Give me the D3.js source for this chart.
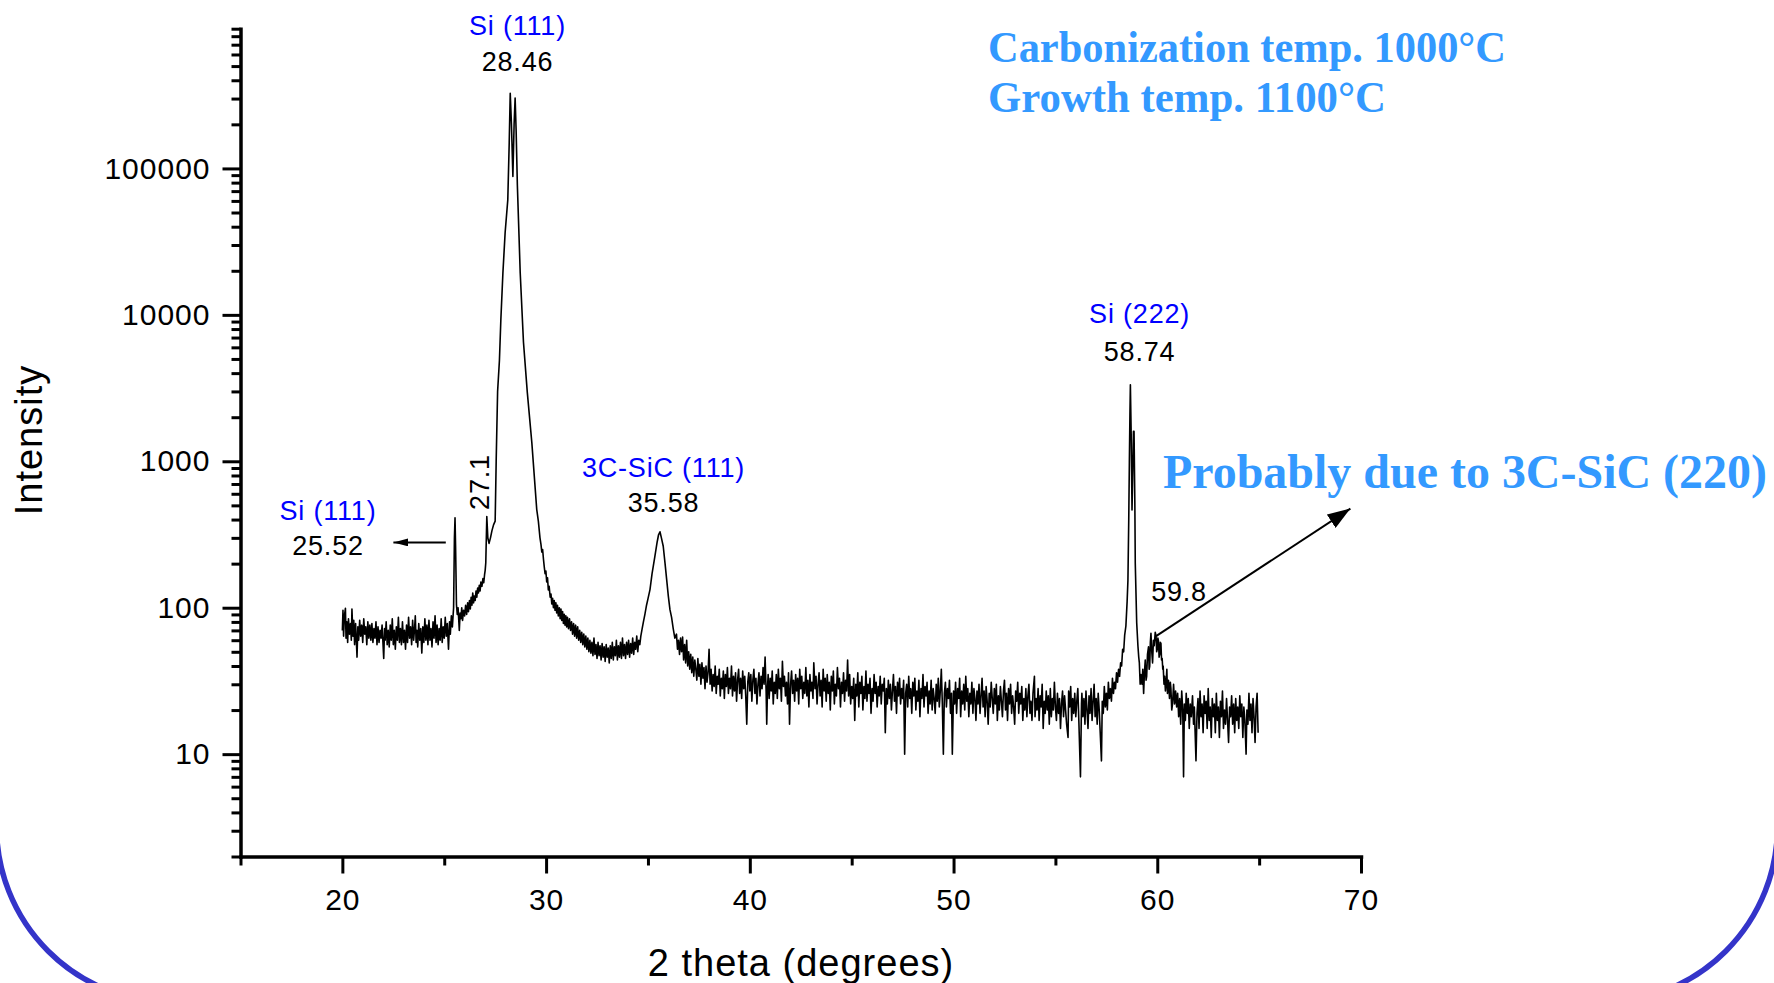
<!DOCTYPE html>
<html>
<head>
<meta charset="utf-8">
<script src="https://cdn.jsdelivr.net/npm/d3@7"></script>
<style>
html, body { margin: 0; padding: 0; background: #fff; }
svg { display: block; }
.sans { font-family: "Liberation Sans", Arial, Helvetica, sans-serif; }
.serif { font-family: "Liberation Serif", "Times New Roman", serif; font-weight: bold; }
</style>
</head>
<body>
<svg id="chart" width="1774" height="983"></svg>
<script>
// ---- data: [2 theta (deg), intensity (counts)] ----
var scanLowAngle = [[20.0,70],[20.03,96],[20.06,64],[20.1,88],[20.15,99],[20.18,62],[20.22,80],[20.26,58],[20.3,84],[20.35,66],[20.4,78],[20.44,60],[20.47,98],[20.52,64],[20.56,82],[20.6,56],[20.65,78],[20.72,46],[20.76,74],[20.8,60],[20.85,82],[20.9,64],[20.95,76],[21.0,58],[21.05,84],[21.1,66],[21.15,74],[21.2,56],[21.25,80],[21.3,62],[21.35,76],[21.4,60],[21.45,78],[21.5,58],[21.55,72],[21.6,62],[21.65,80],[21.7,56],[21.75,74],[21.8,58],[21.85,70],[21.9,62],[21.95,76],[22.03,45],[22.07,72],[22.1,60],[22.15,80],[22.2,56],[22.25,70],[22.3,54],[22.35,76],[22.4,60],[22.45,84],[22.5,56],[22.55,70],[22.6,52],[22.65,74],[22.7,60],[22.75,86],[22.8,58],[22.85,72],[22.9,56],[22.95,80],[23.0,58],[23.05,70],[23.1,52],[23.15,76],[23.2,58],[23.25,86],[23.3,62],[23.35,74],[23.4,56],[23.45,82],[23.5,60],[23.55,74],[23.58,88],[23.62,58],[23.66,70],[23.7,54],[23.75,78],[23.8,60],[23.85,72],[23.9,49],[23.95,74],[24.0,58],[24.05,84],[24.1,60],[24.15,76],[24.2,56],[24.25,82],[24.3,60],[24.35,72],[24.4,54],[24.45,80],[24.5,62],[24.55,88],[24.6,58],[24.65,76],[24.7,56],[24.75,72],[24.8,60],[24.85,84],[24.9,58],[24.95,74],[25.0,62],[25.05,86],[25.1,64],[25.15,78],[25.21,52],[25.26,80],[25.3,66],[25.35,88],[25.4,74]];

var scanSi111 = [[25.46,100],[25.5,300],[25.53,412],[25.56,250],[25.6,105],[25.64,90],[25.68,100],[25.74,70],[25.78,92],[25.82,84],[25.86,100],[25.9,82],[25.95,96],[26.0,88],[26.05,104],[26.1,90],[26.15,108],[26.19,94],[26.24,112],[26.28,98],[26.32,118],[26.36,104],[26.4,126],[26.44,108],[26.48,120],[26.52,112],[26.56,130],[26.6,118],[26.64,136],[26.68,126],[26.72,142],[26.76,130],[26.8,150],[26.85,140],[26.9,158],[26.94,148],[26.98,168],[27.01,180],[27.04,203],[27.09,420],[27.14,300],[27.2,275],[27.27,300],[27.34,335],[27.42,368],[27.5,390],[27.55,1000],[27.62,3000],[27.71,4900],[27.78,9300],[27.88,19300],[27.99,36500],[28.12,61000],[28.19,150000],[28.24,326000],[28.3,200000],[28.37,88000],[28.43,200000],[28.48,302000],[28.53,180000],[28.59,76800],[28.73,19300],[28.89,6500],[29.08,2930],[29.3,1340],[29.54,470],[29.62,390],[29.7,300],[29.75,270],[29.79,240],[29.83,250],[29.87,215],[29.91,190],[29.95,171],[29.99,178],[30.03,150],[30.07,160],[30.11,132],[30.15,140],[30.2,118],[30.24,124],[30.28,106]];

var scanSiC111 = [[30.32,116],[30.36,100],[30.4,112],[30.44,96],[30.48,108],[30.52,92],[30.56,104],[30.6,88],[30.65,100],[30.69,84],[30.73,98],[30.77,82],[30.81,94],[30.85,78],[30.89,90],[30.93,76],[30.97,88],[31.01,74],[31.05,86],[31.1,72],[31.15,84],[31.2,70],[31.25,80],[31.3,66],[31.35,78],[31.4,64],[31.45,76],[31.5,62],[31.55,74],[31.6,60],[31.65,70],[31.7,58],[31.75,68],[31.8,56],[31.85,66],[31.9,54],[31.95,64],[32.0,52],[32.05,62],[32.1,50],[32.15,60],[32.2,49],[32.25,58],[32.3,47],[32.35,62],[32.4,48],[32.45,56],[32.5,45],[32.55,58],[32.6,47],[32.65,55],[32.7,44],[32.75,57],[32.8,46],[32.85,54],[32.9,43],[32.95,56],[33.0,46],[33.05,53],[33.1,42],[33.15,55],[33.2,45],[33.25,58],[33.3,44],[33.35,54],[33.4,47],[33.45,60],[33.5,44],[33.55,55],[33.6,46],[33.65,58],[33.7,45],[33.75,62],[33.8,47],[33.85,56],[33.9,45],[33.95,58],[34.0,48],[34.05,60],[34.1,46],[34.15,57],[34.2,49],[34.25,62],[34.3,48],[34.35,58],[34.4,52],[34.45,64],[34.5,50],[34.55,60],[34.6,56],[34.65,64],[34.7,70],[34.77,79],[34.85,90],[34.93,104],[35.0,115],[35.1,133],[35.2,170],[35.34,224],[35.45,280],[35.52,315],[35.59,330],[35.66,300],[35.75,263],[35.84,200],[35.92,155],[36.0,120],[36.08,97],[36.16,86],[36.24,72],[36.32,62]];

var scanPlateau = [[36.4,66],[36.45,52],[36.5,60],[36.55,48],[36.6,62],[36.65,50],[36.7,63],[36.75,44],[36.8,56],[36.85,42],[36.9,60],[36.95,40],[37.0,50],[37.05,38],[37.1,48],[37.15,36],[37.2,46],[37.25,34],[37.3,44],[37.35,38],[37.4,32],[37.45,45],[37.5,34],[37.55,41],[37.6,30],[37.65,42],[37.7,33],[37.75,39],[37.8,28],[37.85,40],[37.9,31],[37.95,36],[38.0,52],[38.05,30],[38.1,38],[38.15,27],[38.2,35],[38.25,29],[38.3,40],[38.35,26],[38.4,34],[38.45,30],[38.5,38],[38.55,25],[38.6,33],[38.65,28],[38.7,37],[38.75,24],[38.8,35],[38.85,29],[38.9,39],[38.95,26],[39.0,33],[39.05,28],[39.1,40],[39.15,25],[39.2,34],[39.25,27],[39.3,36],[39.35,23],[39.4,32],[39.45,38],[39.5,26],[39.55,33],[39.6,24],[39.65,37],[39.7,28],[39.75,34],[39.8,25],[39.85,16],[39.9,31],[39.95,36],[40.0,27],[40.05,35],[40.1,23],[40.15,32],[40.2,38],[40.25,26],[40.3,33],[40.35,22],[40.4,30],[40.45,36],[40.5,25],[40.55,34],[40.6,28],[40.65,39],[40.7,30],[40.75,46],[40.8,27],[40.83,16],[40.87,29],[40.9,35],[40.95,24],[41.0,33],[41.05,27],[41.1,37],[41.15,22],[41.2,31],[41.25,26],[41.3,35],[41.35,24],[41.4,38],[41.45,28],[41.5,33],[41.55,23],[41.6,43],[41.65,29],[41.7,34],[41.75,25],[41.8,31],[41.85,22],[41.9,36],[41.95,16],[42.0,30],[42.05,37],[42.1,26],[42.15,32],[42.2,23],[42.25,35],[42.3,27],[42.35,33],[42.4,22],[42.45,38],[42.5,28],[42.55,34],[42.6,24],[42.65,31],[42.7,26],[42.75,39],[42.8,25],[42.85,32],[42.9,21],[42.95,35],[43.0,27],[43.05,31],[43.1,24],[43.14,42],[43.2,28],[43.25,34],[43.3,22],[43.35,30],[43.4,36],[43.45,25],[43.5,32],[43.55,21],[43.6,38],[43.65,27],[43.7,33],[43.75,23],[43.8,35],[43.85,26],[43.9,31],[43.95,20],[44.0,34],[44.05,27],[44.1,37],[44.15,22],[44.2,30],[44.25,25],[44.3,39],[44.35,28],[44.4,33],[44.45,21],[44.5,31],[44.55,26],[44.6,36],[44.65,23],[44.7,32],[44.75,27],[44.8,44],[44.85,25],[44.9,35],[44.95,22],[45.0,29],[45.05,24],[45.1,33],[45.15,17],[45.2,30],[45.25,25],[45.3,36],[45.35,21],[45.4,31],[45.45,26],[45.5,34],[45.55,20],[45.6,29],[45.65,24],[45.7,37],[45.75,23],[45.8,30],[45.85,26],[45.9,33],[45.95,19],[46.0,28],[46.05,23],[46.1,35],[46.15,26],[46.2,31],[46.25,21],[46.3,29],[46.35,25],[46.4,34],[46.45,22],[46.5,30],[46.55,27],[46.6,33],[46.65,14],[46.7,28],[46.75,22],[46.8,32],[46.85,24],[46.9,30],[46.95,20],[47.0,27],[47.05,35],[47.1,23],[47.15,29],[47.2,19],[47.25,31],[47.3,25],[47.35,33],[47.4,22],[47.45,28],[47.5,24],[47.55,32],[47.6,10],[47.65,26],[47.7,30],[47.75,21],[47.8,34],[47.85,24],[47.9,28],[47.95,19],[48.0,31],[48.05,25],[48.1,33],[48.15,20],[48.2,27],[48.25,23],[48.3,32],[48.35,18],[48.4,28],[48.45,24],[48.5,35],[48.55,21],[48.6,29],[48.65,25],[48.7,31],[48.75,19],[48.8,27],[48.85,22],[48.9,32],[48.95,20],[49.0,28],[49.05,24],[49.1,19],[49.15,30],[49.2,23],[49.25,33],[49.3,21],[49.35,27],[49.4,38],[49.45,22],[49.5,10],[49.55,26],[49.6,31],[49.65,21],[49.7,28],[49.75,24],[49.8,32],[49.85,19],[49.9,26],[49.94,10],[50.0,27],[50.05,22],[50.1,31],[50.15,19],[50.2,28],[50.25,24],[50.3,33],[50.35,18],[50.4,27],[50.45,22],[50.5,30],[50.55,20],[50.6,34],[50.65,23],[50.7,28],[50.75,18],[50.8,26],[50.85,22],[50.9,31],[50.95,19],[51.0,28],[51.05,24],[51.1,17],[51.15,27],[51.2,22],[51.25,30],[51.3,19],[51.35,25],[51.4,33],[51.45,21],[51.5,27],[51.55,18],[51.6,29],[51.65,23],[51.7,16],[51.75,26],[51.8,21],[51.85,31],[51.9,24],[51.95,19],[52.0,28],[52.05,22],[52.1,30],[52.15,17],[52.2,25],[52.25,20],[52.3,29],[52.35,23],[52.4,18],[52.45,27],[52.5,32],[52.55,20],[52.6,26],[52.65,17],[52.7,28],[52.75,22],[52.8,30],[52.85,19],[52.9,25],[52.95,21],[53.0,16],[53.05,27],[53.1,23],[53.15,31],[53.2,19],[53.25,26],[53.3,22],[53.35,29],[53.4,17],[53.45,24],[53.5,20],[53.55,28],[53.6,18],[53.65,25],[53.7,30],[53.75,19],[53.8,23],[53.85,17],[53.9,26],[53.97,34],[54.0,18],[54.05,24],[54.1,20],[54.15,28],[54.2,17],[54.25,25],[54.3,21],[54.35,30],[54.4,15],[54.45,23],[54.5,19],[54.55,27],[54.6,20],[54.65,25],[54.7,16],[54.75,28],[54.8,18],[54.85,24],[54.9,20],[54.95,31],[55.0,21],[55.05,17],[55.1,26],[55.15,19],[55.2,24],[55.25,15],[55.3,22],[55.35,27],[55.4,18],[55.45,25],[55.5,20],[55.55,16],[55.62,13],[55.65,27],[55.7,21],[55.75,29],[55.8,17],[55.85,24],[55.9,19],[55.95,26],[56.0,18],[56.05,23],[56.1,28],[56.15,17],[56.23,7],[56.28,22],[56.3,26],[56.35,18],[56.4,24],[56.45,16],[56.5,27],[56.55,20],[56.6,15],[56.65,25],[56.7,19],[56.75,28],[56.8,17],[56.85,23],[56.9,30],[56.95,18],[57.0,24],[57.05,16],[57.1,26],[57.15,20],[57.2,14],[57.26,9],[57.3,23],[57.35,19],[57.4,29],[57.45,21],[57.5,26],[57.55,20],[57.6,31],[57.65,24],[57.7,28],[57.75,23],[57.8,33],[57.85,26],[57.9,31],[57.95,28]];

var scanSi222 = [[58.0,36],[58.05,31],[58.1,38],[58.15,34],[58.2,42],[58.25,40],[58.3,52],[58.35,50],[58.4,65],[58.46,75],[58.52,110],[58.56,154],[58.6,400],[58.63,985],[58.66,2200],[58.68,3330],[58.72,1500],[58.76,465],[58.8,900],[58.83,1600],[58.86,1600],[58.9,500],[58.92,201],[58.99,79],[59.05,55],[59.09,46],[59.12,42],[59.16,30],[59.2,35],[59.25,30],[59.29,38],[59.33,26],[59.37,36],[59.41,44],[59.45,32],[59.48,34],[59.52,48],[59.57,54],[59.6,38],[59.63,40],[59.66,58],[59.69,67],[59.73,50],[59.77,42],[59.81,60],[59.85,55],[59.9,68],[59.94,64],[59.97,50],[60.0,52],[60.03,62],[60.06,59],[60.09,46],[60.12,48],[60.15,58],[60.18,57],[60.21,44],[60.24,45],[60.27,38],[60.29,40],[60.33,30],[60.36,34],[60.4,27],[60.43,30],[60.47,38],[60.5,26],[60.55,32],[60.6,24],[60.64,31],[60.67,28],[60.71,20],[60.75,22],[60.8,30],[60.85,22],[60.9,27],[60.95,21],[61.0,26],[61.05,18],[61.1,24],[61.15,16],[61.2,27],[61.25,20],[61.29,7],[61.33,22],[61.38,17],[61.42,26],[61.47,19],[61.52,24],[61.57,15],[61.62,22],[61.67,18],[61.73,25],[61.78,16],[61.82,21],[61.9,9],[61.95,19],[62.0,24],[62.05,15],[62.1,27],[62.15,18],[62.2,22],[62.25,14],[62.3,25],[62.35,19],[62.4,23],[62.45,15],[62.5,28],[62.55,17],[62.6,21],[62.65,13],[62.7,24],[62.75,18],[62.8,22],[62.85,14],[62.9,26],[62.95,17],[63.0,21],[63.05,13],[63.1,23],[63.15,18],[63.2,27],[63.25,15],[63.3,20],[63.35,16],[63.4,24],[63.45,17],[63.5,12],[63.55,21],[63.6,18],[63.65,25],[63.7,16],[63.75,22],[63.8,14],[63.85,24],[63.9,17],[63.95,21],[64.0,15],[64.05,25],[64.1,18],[64.15,22],[64.2,13],[64.25,21],[64.3,17],[64.36,10],[64.4,20],[64.45,16],[64.5,26],[64.55,17],[64.6,22],[64.65,14],[64.7,24],[64.75,18],[64.8,12],[64.85,21],[64.9,26],[64.95,14]];

var xMajorTicks = [20, 30, 40, 50, 60, 70];
var xMinorTicks = [15, 25, 35, 45, 55, 65];
var yMajorTicks = [10, 100, 1000, 10000, 100000];

var peakPhases = ['Si (111)', 'Si (111)', '3C-SiC (111)', 'Si (222)'];
var peakAngles = ['28.46', '25.52', '35.58', '58.74'];
var shoulderAngles = ['27.1', '59.8'];
var conditions = ['Carbonization temp. 1000\u00b0C', 'Growth temp. 1100\u00b0C'];
var note = 'Probably due to 3C-SiC (220)';

var xTitle = '2 theta (degrees)';
var yTitle = 'Intensity';

var svg = d3.select('#chart');

// slide frame behind everything (only its lower corners show)
svg.append('rect')
	.attr('x', -3.5)
	.attr('y', -700)
	.attr('width', 1781)
	.attr('height', 1702.5)
	.attr('rx', 176)
	.attr('fill', 'none')
	.attr('stroke', '#3434c9')
	.attr('stroke-width', 5.5);

var x = d3.scaleLinear().domain([15, 70]).range([240.5, 1361]);
var y = d3.scaleLog().domain([2, 900000]).range([856.5, 28.7]);

var yMinorTicks = [];
for (var dec = 1; dec <= 100000; dec *= 10){
	for (var m = 2; m <= 9; m++){
		var v = m * dec;
		if (v >= 2 && v <= 900000){
			yMinorTicks.push(v);
		}
	}
}

function styleAxis(g, showDomain){
	g.attr('font-size', null).attr('font-family', null);
	g.select('.domain')
		.attr('stroke', showDomain ? '#000' : 'none')
		.attr('stroke-width', 3.5)
		.attr('stroke-linecap', 'square');
	g.selectAll('.tick line').attr('stroke', '#000').attr('stroke-width', 3);
	g.selectAll('.tick text')
		.attr('class', 'sans')
		.attr('fill', '#000')
		.style('font-size', '30px')
		.style('letter-spacing', '1px');
}

// minor ticks first, then the main axes on top
svg.append('g')
	.attr('transform', 'translate(0,' + y.range()[0] + ')')
	.call(d3.axisBottom(x).tickValues(xMinorTicks).tickSize(9).tickSizeOuter(0).tickFormat(''))
	.call(styleAxis, false);

svg.append('g')
	.attr('transform', 'translate(' + x.range()[0] + ',0)')
	.call(d3.axisLeft(y).tickValues(yMinorTicks).tickSize(9).tickSizeOuter(0).tickFormat(''))
	.call(styleAxis, false);

svg.append('g')
	.attr('transform', 'translate(0,' + y.range()[0] + ')')
	.call(d3.axisBottom(x).tickValues(xMajorTicks).tickSize(17).tickPadding(15).tickSizeOuter(0).tickFormat(d3.format('d')))
	.call(styleAxis, true);

svg.append('g')
	.attr('transform', 'translate(' + x.range()[0] + ',0)')
	.call(d3.axisLeft(y).tickValues(yMajorTicks).tickSize(18).tickPadding(12).tickSizeOuter(0).tickFormat(d3.format('d')))
	.call(styleAxis, true);

// axis titles
svg.append('text')
	.attr('class', 'sans')
	.attr('x', 801)
	.attr('y', 976)
	.attr('text-anchor', 'middle')
	.style('font-size', '38px')
	.style('letter-spacing', '1px')
	.text(xTitle);

svg.append('text')
	.attr('class', 'sans')
	.attr('transform', 'translate(42,440) rotate(-90)')
	.attr('text-anchor', 'middle')
	.style('font-size', '38px')
	.style('letter-spacing', '1px')
	.text(yTitle);

// the scan
var scan = [].concat(scanLowAngle, scanSi111, scanSiC111, scanPlateau, scanSi222);

var line = d3.line()
	.x(function(d){ return x(d[0]); })
	.y(function(d){ return y(d[1]); });

svg.append('path')
	.datum(scan)
	.attr('d', line)
	.attr('fill', 'none')
	.attr('stroke', '#000')
	.attr('stroke-width', 1.6)
	.attr('stroke-linejoin', 'round');

// arrow heads
var defs = svg.append('defs');
defs.append('marker')
	.attr('id', 'headSmall')
	.attr('markerUnits', 'userSpaceOnUse')
	.attr('viewBox', '0 0 15 8')
	.attr('refX', 15).attr('refY', 4)
	.attr('markerWidth', 15).attr('markerHeight', 8)
	.attr('orient', 'auto')
	.append('path').attr('d', 'M0,0L15,4L0,8Z').attr('fill', '#000');
defs.append('marker')
	.attr('id', 'headBig')
	.attr('markerUnits', 'userSpaceOnUse')
	.attr('viewBox', '0 0 23 16')
	.attr('refX', 23).attr('refY', 8)
	.attr('markerWidth', 23).attr('markerHeight', 16)
	.attr('orient', 'auto')
	.append('path').attr('d', 'M0,0L23,8L0,16Z').attr('fill', '#000');

// peak labels: phase (blue) over position (black)
var labelSpots = [
	{ cx: 517.5, phaseY: 35, angleY: 71 },
	{ cx: 328, phaseY: 519.5, angleY: 555.4 },
	{ cx: 663.5, phaseY: 476.7, angleY: 511.7 },
	{ cx: 1139.6, phaseY: 323.3, angleY: 360.7 }
];

for (var i = 0; i < peakPhases.length; i++){
	var spot = labelSpots[i];
	svg.append('text')
		.attr('class', 'sans')
		.attr('x', spot.cx).attr('y', spot.phaseY)
		.attr('text-anchor', 'middle')
		.attr('fill', '#0000ff')
		.style('font-size', '27px')
		.style('letter-spacing', '0.8px')
		.text(peakPhases[i]);
	svg.append('text')
		.attr('class', 'sans')
		.attr('x', spot.cx).attr('y', spot.angleY)
		.attr('text-anchor', 'middle')
		.attr('fill', '#000')
		.style('font-size', '27px')
		.style('letter-spacing', '0.8px')
		.text(peakAngles[i]);
}

// 27.1 shoulder, written sideways
svg.append('text')
	.attr('class', 'sans')
	.attr('transform', 'translate(489,482) rotate(-90)')
	.attr('text-anchor', 'middle')
	.style('font-size', '27px')
	.style('letter-spacing', '0.8px')
	.text(shoulderAngles[0]);

svg.append('text')
	.attr('class', 'sans')
	.attr('x', 1179).attr('y', 600.7)
	.attr('text-anchor', 'middle')
	.style('font-size', '27px')
	.style('letter-spacing', '0.8px')
	.text(shoulderAngles[1]);

// arrow from the 25.52 peak towards its label
svg.append('line')
	.attr('x1', 445.8).attr('y1', 542.4)
	.attr('x2', 393.4).attr('y2', 542.4)
	.attr('stroke', '#000').attr('stroke-width', 2)
	.attr('marker-end', 'url(#headSmall)');

// arrow from the 59.8 bump to the note
svg.append('line')
	.attr('x1', x(59.94)).attr('y1', y(64))
	.attr('x2', 1350.4).attr('y2', 508.6)
	.attr('stroke', '#000').attr('stroke-width', 2)
	.attr('marker-end', 'url(#headBig)');

// growth conditions and note
var condSpots = [
	{ x: 988, y: 61.7, len: 518 },
	{ x: 988, y: 111.7, len: 398 }
];
for (var j = 0; j < conditions.length; j++){
	svg.append('text')
		.attr('class', 'serif')
		.attr('x', condSpots[j].x).attr('y', condSpots[j].y)
		.attr('fill', '#3399ff')
		.attr('textLength', condSpots[j].len)
		.attr('lengthAdjust', 'spacingAndGlyphs')
		.style('font-size', '45px')
		.text(conditions[j]);
}

svg.append('text')
	.attr('class', 'serif')
	.attr('x', 1163).attr('y', 488)
	.attr('fill', '#3399ff')
	.attr('textLength', 604)
	.attr('lengthAdjust', 'spacingAndGlyphs')
	.style('font-size', '48px')
	.text(note);
</script>
</body>
</html>
